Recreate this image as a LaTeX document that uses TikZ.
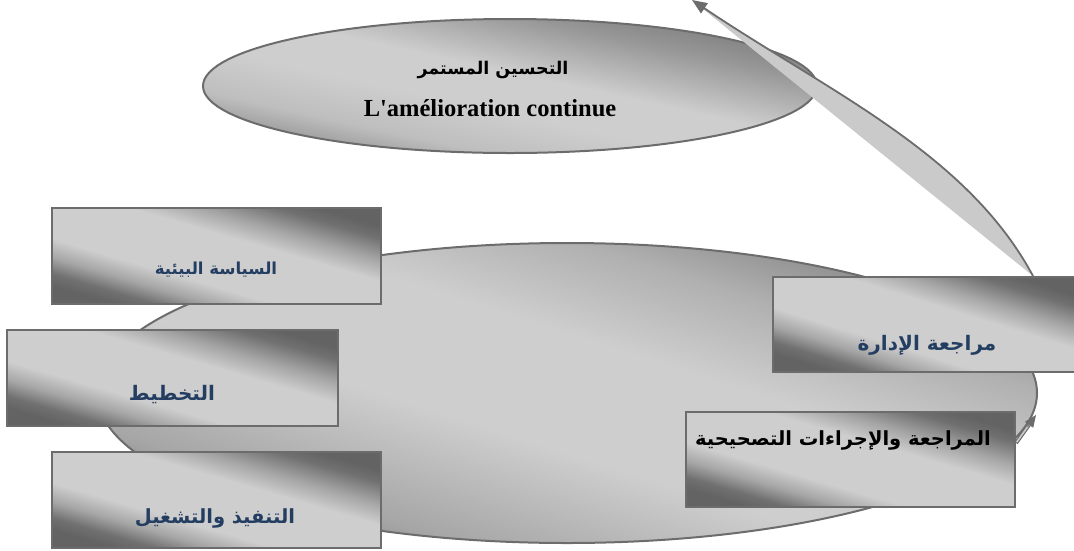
\documentclass[tikz,border=0pt]{standalone}
\usepackage{fontspec}
\setmainfont{Liberation Serif}[Ligatures=TeXOff]
\newfontfamily\arabicfont[Script=Arabic]{DejaVu Sans}
\TeXXeTstate=1
\usetikzlibrary{shapes.geometric,arrows.meta,calc}

\definecolor{edgegray}{RGB}{108,108,108}
\definecolor{navy}{RGB}{36,62,98}
\definecolor{bandfill}{RGB}{202,202,202}
% gray ramp for the metal finish
\definecolor{gA}{gray}{0.39}
\definecolor{gB}{gray}{0.41}
\definecolor{gC}{gray}{0.44}
\definecolor{gD}{gray}{0.49}
\definecolor{gE}{gray}{0.53}
\definecolor{gF}{gray}{0.59}
\definecolor{gG}{gray}{0.65}
\definecolor{gH}{gray}{0.69}
\definecolor{gI}{gray}{0.745}
\definecolor{gL}{gray}{0.806}

% brushed-metal gradients: dark towards the lower-left and upper-right
% corners, light along the other diagonal
\pgfdeclarehorizontalshading{metalrect}{100bp}{%
  color(0bp)=(gA); color(25bp)=(gA); color(28.75bp)=(gC); color(34bp)=(gG);
  color(40bp)=(gL); color(57.5bp)=(gL); color(64bp)=(gG); color(71.25bp)=(gC);
  color(75bp)=(gA); color(100bp)=(gA)}
\pgfdeclarehorizontalshading{metalbig}{100bp}{%
  color(0bp)=(gA); color(17.8bp)=(gA); color(24.2bp)=(gD); color(30.7bp)=(gG);
  color(43.6bp)=(gL); color(56.4bp)=(gL); color(66.1bp)=(gH); color(74.2bp)=(gE);
  color(82.2bp)=(gB); color(100bp)=(gB)}
\pgfdeclarehorizontalshading{metaltop}{100bp}{%
  color(0bp)=(gB); color(17.8bp)=(gB); color(24.2bp)=(gE); color(33.9bp)=(gI);
  color(43.6bp)=(gL); color(53.2bp)=(gL); color(66.1bp)=(gF); color(74.2bp)=(gD);
  color(82.2bp)=(gB); color(100bp)=(gB)}

\tikzset{
  outline/.style={draw=edgegray, line width=2pt},
  metalbox/.style={outline, shading=metalrect, shading angle=#1, rectangle, inner sep=0pt},
  metalell/.style={outline, ellipse, inner sep=0pt},
  artext/.style={text=navy, inner sep=0pt},
  artextblack/.style={text=black, inner sep=0pt},
}

\begin{document}
\begin{tikzpicture}[x=1pt,y=1pt]
\useasboundingbox (0,0) rectangle (1074,-550);

% upper ellipse: continual improvement
\node[metalell, shading=metaltop, shading angle=77.7,
      minimum width=614pt, minimum height=134pt] (improve) at (510,-86) {};
\node[artextblack, font=\arabicfont\bfseries\fontsize{17.5}{20}\selectfont] (impar) at (493,-70) {\beginR التحسين المستمر\endR};
\node[inner sep=0pt, font=\bfseries\fontsize{24.5}{26}\selectfont] (impfr) at (490,-108) {L'amélioration continue};

% feedback arrow from management review up to the top
\coordinate (abase) at (1033,-276);
\coordinate (atip) at (692,0);
\fill[bandfill] (atip) -- (abase) .. controls (967,-153) and (829,-92) .. (atip);
\draw[edgegray, line width=1.8pt, -{Triangle[length=15pt,width=12pt]}]
  (abase) .. controls (967,-153) and (829,-92) .. (atip);

% large ellipse holding the cycle
\node[metalell, shading=metalbig, shading angle=72.3,
      minimum width=940pt, minimum height=300pt] (cycle) at (567,-393) {};

% cycle steps
\node[metalbox=73.7, minimum width=329pt, minimum height=96pt] (policy) at (216.5,-256) {};
\node[artext, font=\arabicfont\bfseries\fontsize{16.5}{18}\selectfont] at (216,-270) {\beginR السياسة البيئية\endR};

\node[metalbox=73.8, minimum width=331pt, minimum height=96pt] (plan) at (172.5,-378) {};
\node[artext, font=\arabicfont\bfseries\fontsize{20}{22}\selectfont] at (172,-395) {\beginR التخطيط\endR};

\node[metalbox=73.7, minimum width=329pt, minimum height=96pt] (doit) at (216.5,-500) {};
\node[artext, font=\arabicfont\bfseries\fontsize{19.5}{22}\selectfont] at (215,-518) {\beginR التنفيذ والتشغيل\endR};

\node[metalbox=72.7, minimum width=305pt, minimum height=95pt] (mgmt) at (925.5,-324.5) {};
\node[artext, font=\arabicfont\bfseries\fontsize{20}{22}\selectfont] at (927,-345) {\beginR مراجعة الإدارة\endR};

\node[metalbox=73.7, minimum width=329pt, minimum height=95pt] (review) at (850.5,-459.5) {};
\node[artextblack, font=\arabicfont\bfseries\fontsize{19.5}{21}\selectfont] at (843,-440) {\beginR المراجعة والإجراءات التصحيحية\endR};

% short arrow from corrective actions to the cycle rim
\coordinate (stail) at ($(review.north east)!0.33!(review.south east)$);
\coordinate (stip) at (1036,-415);
\draw[edgegray, line width=4pt, shorten >=9pt] (stail) -- (stip);
\draw[bandfill, line width=1.6pt, shorten >=9pt, shorten <=1pt] (stail) -- (stip);
\draw[edgegray, line width=1pt, shorten <=20pt, -{Triangle[length=12pt,width=10pt]}] (stail) -- (stip);
\end{tikzpicture}
\end{document}
